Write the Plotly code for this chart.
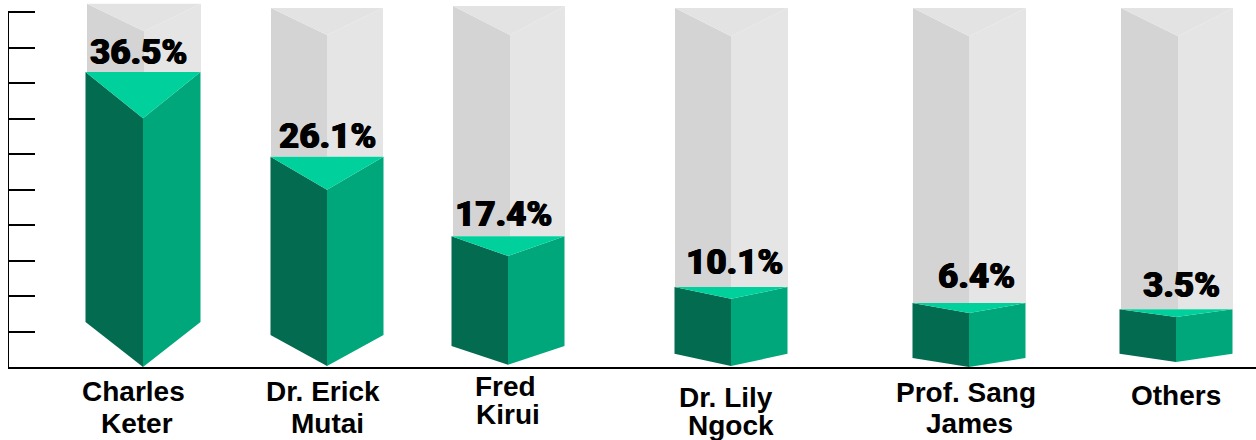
import plotly.graph_objects as go

# Data
candidates = ["Charles Keter", "Dr. Erick Mutai", "Fred Kirui", "Dr. Lily Ngock", "Prof. Sang James", "Others"]
shares = ["36.5%", "26.1%", "17.4%", "10.1%", "6.4%", "3.5%"]
# Bar tops as read on the 0-100 drawn axis
bar_level = [83.1, 59.2, 36.8, 22.5, 18.0, 16.3]
y_ticks = [0, 10, 20, 30, 40, 50, 60, 70, 80, 90, 100]
label_lines = [["Charles", "Keter"], ["Dr. Erick", "Mutai"], ["Fred", "Kirui"],
               ["Dr. Lily", "Ngock"], ["Prof. Sang", "James"], ["Others"]]

# Prism geometry, separate from the data
centers = [143, 327, 508, 731, 969, 1176]
half_w = [57.5, 56.5, 56.5, 56.5, 56.5, 56.5]
top_vertex = [70.1, 49.9, 31.3, 19.2, 15.2, 14.1]
side_bottom = [12.7, 9.0, 5.9, 3.7, 2.5, 3.7]
center_bottom = [0, 0.3, 0.6, 0.3, 0, 1.4]
ghost_center = [144, 327, 510, 731, 969, 1178]
ghost_left = [87, 271, 453, 675, 913, 1121]
ghost_right = [201, 383, 565, 788, 1026, 1233]
ghost_top = [102.3, 101.1, 101.7, 101.1, 101.1, 101.1]
ghost_vertex = [94.6, 93.5, 93.5, 93.2, 93.2, 93.2]

# Label placement (axis units)
share_x = [138, 327, 503, 734, 976, 1181]
share_y = [88.5, 65.0, 43.0, 29.5, 25.5, 23.0]
line_x = [[133, 137], [323, 327], [505, 508], [726, 731], [965.5, 969], [1176]]
line_y = [[-7.0, -15.8], [-7.0, -15.8], [-5.6, -13.5], [-8.7, -16.6], [-7.3, -15.8], [-7.9]]

Y_TOP = 103.38  # room above the axis for the taller backdrops
C_DARK, C_MID, C_TOP = "#036b4f", "#00a77a", "#00d09b"
G_LEFT, G_RIGHT, G_TOP = "#d4d4d4", "#e5e5e5", "#e3e3e3"

fig = go.Figure()


def face(xs, ys, color):
    fig.add_trace(go.Scatter(
        x=xs + xs[:1], y=ys + ys[:1], mode="lines", fill="toself", fillcolor=color,
        line=dict(width=0, color=color), hoverinfo="skip", showlegend=False,
    ))


for i in range(len(candidates)):
    c, w, lv = centers[i], half_w[i], bar_level[i]
    gl, gr, gc = ghost_left[i], ghost_right[i], ghost_center[i]
    gt, gv = ghost_top[i], ghost_vertex[i]
    face([gl, gc, gc, gl], [gt, gv, lv, lv], G_LEFT)
    face([gc, gr, gr, gc], [gv, gt, lv, lv], G_RIGHT)
    face([gl, gr, gc], [gt, gt, gv], G_TOP)
    face([c - w, c, c, c - w], [lv, top_vertex[i], center_bottom[i], side_bottom[i]], C_DARK)
    face([c, c + w, c + w, c], [top_vertex[i], lv, side_bottom[i], center_bottom[i]], C_MID)
    face([c - w, c + w, c], [lv, lv, top_vertex[i]], C_TOP)

annotations = []
for i, s in enumerate(shares):
    annotations.append(dict(
        x=share_x[i], y=share_y[i], xref="x", yref="y", text=s, showarrow=False,
        xanchor="center", yanchor="middle",
        font=dict(family="Roboto", size=35, color="#000000", weight=900,
                  shadow="0.6px 0 0 #000, -0.6px 0 0 #000"),
    ))
    for j, t in enumerate(label_lines[i]):
        annotations.append(dict(
            x=line_x[i][j], y=line_y[i][j] / Y_TOP, xref="x", yref="paper", text=t, showarrow=False,
            xanchor="center", yanchor="middle",
            font=dict(family="Liberation Sans", size=28, color="#000000", weight=700),
        ))

fig.update_layout(
    width=1256, height=440, margin=dict(l=8, r=0, t=0, b=73, pad=0),
    paper_bgcolor="#ffffff", plot_bgcolor="#ffffff", showlegend=False,
    annotations=annotations,
    shapes=[dict(type="line", xref="x", yref="y", x0=8, x1=8, y0=0, y1=100,
                 line=dict(color="#000000", width=2))],
    xaxis=dict(range=[8, 1256], showgrid=False, zeroline=False, showticklabels=False,
               ticks="", showline=True, linecolor="#000000", linewidth=1.5, fixedrange=True),
    yaxis=dict(range=[0, Y_TOP], tickvals=y_ticks, showgrid=False, zeroline=False,
               showticklabels=False, ticks="inside", ticklen=27, tickwidth=2, tickcolor="#000000",
               showline=False, fixedrange=True),
)
fig.write_html("out.html", config={"displayModeBar": False},
               post_script="document.body.style.margin='0';")
